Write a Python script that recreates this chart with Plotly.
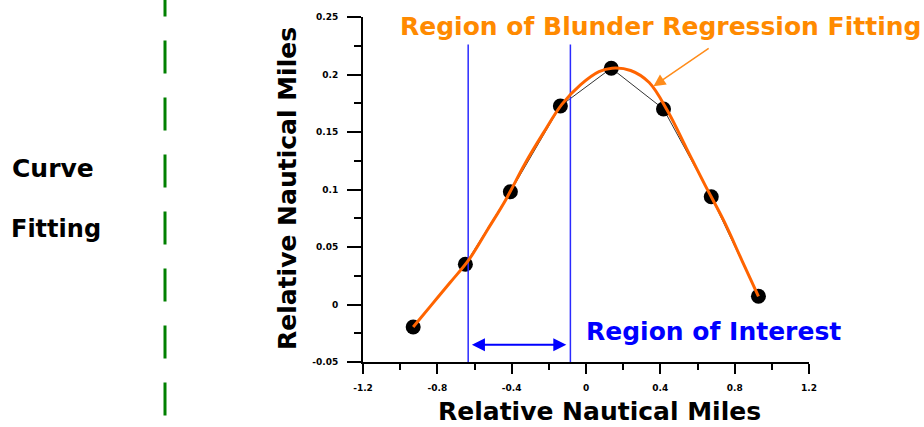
import plotly.graph_objects as go

# ---------------- data ----------------
obs_x = [-0.93, -0.649, -0.407, -0.138, 0.136, 0.417, 0.674, 0.928]
obs_y = [-0.0195, 0.035, 0.098, 0.1726, 0.2055, 0.170, 0.0937, 0.0072]

fit_x = [-0.93, -0.83, -0.73, -0.63, -0.53, -0.43, -0.33, -0.23, -0.13, -0.03,
         0.07, 0.14, 0.24, 0.34, 0.44, 0.54, 0.64, 0.74, 0.84, 0.928]
fit_y = [-0.0195, -0.0001, 0.0193, 0.039, 0.065, 0.0916, 0.122, 0.149, 0.174, 0.191,
         0.2025, 0.2055, 0.2035, 0.193, 0.168, 0.136, 0.104, 0.0733, 0.038, 0.007]

roi_bounds = [-0.634, -0.084]
roi_line_y = [-0.05, 0.226]
roi_arrow_x = [-0.622, -0.106]
roi_arrow_y = -0.035

fit_arrow_tail = [0.668, 0.2236]
fit_arrow_head = [0.363, 0.1898]

x_tick_vals = [-1.2, -0.8, -0.4, 0, 0.4, 0.8, 1.2]
x_tick_text = ["-1.2", "-0.8", "-0.4", "0", "0.4", "0.8", "1.2"]
y_tick_vals = [-0.05, 0, 0.05, 0.1, 0.15, 0.2, 0.25]
y_tick_text = ["-0.05", "0", "0.05", "0.1", "0.15", "0.2", "0.25"]

axis_title = "Relative Nautical Miles"
title_text = "Region of Blunder Regression Fitting"
roi_text = "Region of Interest"
side_text = ["Curve", "Fitting"]

# ---------------- figure ----------------
W, H = 924, 427
ML, MR, MT, MB = 363, 115, 13, 65
PW, PH = W - ML - MR, H - MT - MB


def px(xp):
    return (xp - ML) / PW


def py(yp):
    return (H - MB - yp) / PH


FONT = "DejaVu Sans"
fig = go.Figure()

fig.add_trace(go.Scatter(x=obs_x, y=obs_y, mode="lines+markers",
                         line=dict(color="#333333", width=1),
                         marker=dict(color="black", size=15, symbol="circle"),
                         showlegend=False, hoverinfo="skip"))

for xb in roi_bounds:
    fig.add_trace(go.Scatter(x=[xb, xb], y=roi_line_y, mode="lines",
                             line=dict(color="#2a2aff", width=1.5),
                             showlegend=False, hoverinfo="skip"))

fig.add_trace(go.Scatter(x=fit_x, y=fit_y, mode="lines",
                         line=dict(color="#ff6400", width=3, shape="spline", smoothing=1.0),
                         showlegend=False, hoverinfo="skip"))

annotations = [
    # double arrow of region of interest
    dict(x=roi_arrow_x[1], y=roi_arrow_y, ax=roi_arrow_x[0], ay=roi_arrow_y,
         xref="x", yref="y", axref="x", ayref="y", text="", showarrow=True,
         arrowhead=2, startarrowhead=2, arrowside="end+start", arrowsize=1.3,
         startarrowsize=1.3, arrowwidth=2, arrowcolor="#0000ff"),
    # orange pointer arrow
    dict(x=fit_arrow_head[0], y=fit_arrow_head[1], ax=fit_arrow_tail[0], ay=fit_arrow_tail[1],
         xref="x", yref="y", axref="x", ayref="y", text="", showarrow=True,
         arrowhead=2, arrowsize=1.6, arrowwidth=1.5, arrowcolor="#ff8c1a"),
    dict(x=px(660), y=py(22.5), xref="paper", yref="paper", text=title_text,
         showarrow=False, xanchor="center", yanchor="middle",
         font=dict(family=FONT, size=25, color="#ff8a00", weight="bold")),
    dict(x=px(713.5), y=py(331.4), xref="paper", yref="paper", text=roi_text,
         showarrow=False, xanchor="center", yanchor="middle",
         font=dict(family=FONT, size=25, color="#0000ff", weight="bold")),
    dict(x=px(599.2), y=py(411.7), xref="paper", yref="paper", text=axis_title,
         showarrow=False, xanchor="center", yanchor="middle",
         font=dict(family=FONT, size=25, color="black", weight="bold")),
    dict(x=px(287), y=py(187), xref="paper", yref="paper", text=axis_title,
         showarrow=False, xanchor="center", yanchor="middle", textangle=-90,
         font=dict(family=FONT, size=25, color="black", weight="bold")),
    dict(x=px(10), y=py(166), xref="paper", yref="paper", text=side_text[0],
         showarrow=False, xanchor="left", yanchor="middle",
         font=dict(family=FONT, size=25, color="black", weight="bold")),
    dict(x=px(9), y=py(227), xref="paper", yref="paper", text=side_text[1],
         showarrow=False, xanchor="left", yanchor="middle",
         font=dict(family=FONT, size=24, color="black", weight="bold")),
]

shapes = [
    dict(type="line", xref="paper", yref="paper", x0=px(165), x1=px(165),
         y0=py(416), y1=py(-5), line=dict(color="#008000", width=3, dash="33px,24px")),
]

tickfont = dict(family=FONT, size=9, color="black", weight="bold")

fig.update_layout(
    width=W, height=H, autosize=False,
    margin=dict(l=ML, r=MR, t=MT, b=MB, pad=0),
    paper_bgcolor="white", plot_bgcolor="white",
    annotations=annotations, shapes=shapes,
    xaxis=dict(range=[-1.2, 1.2], tickvals=x_tick_vals, ticktext=x_tick_text,
               showgrid=False, zeroline=False, showline=True, linecolor="black", linewidth=2,
               ticks="outside", ticklen=10, tickwidth=2, tickcolor="black",
               tickfont=tickfont, ticklabelstandoff=6,
               minor=dict(dtick=0.2, tick0=0, ticks="outside", ticklen=6, tickwidth=2,
                          tickcolor="black", showgrid=False)),
    yaxis=dict(range=[-0.05, 0.25], tickvals=y_tick_vals, ticktext=y_tick_text,
               showgrid=False, zeroline=False, showline=True, linecolor="black", linewidth=2,
               ticks="outside", ticklen=14, tickwidth=2, tickcolor="black",
               tickfont=tickfont, ticklabelstandoff=7,
               minor=dict(dtick=0.025, tick0=0, ticks="outside", ticklen=7, tickwidth=2,
                          tickcolor="black", showgrid=False)),
)

fig.write_html("out.html")
